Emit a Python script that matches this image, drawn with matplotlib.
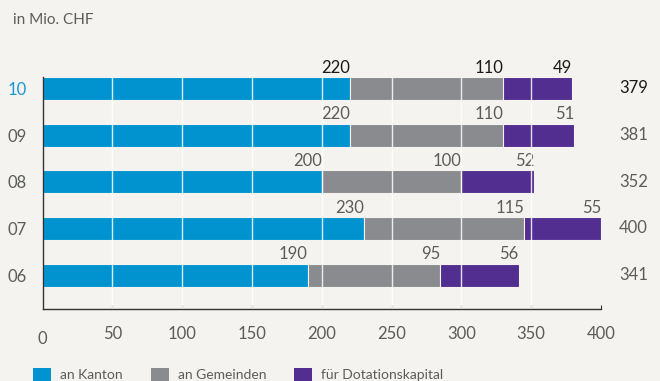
import matplotlib

matplotlib.use("Agg")
import matplotlib.pyplot as plt  # noqa: E402
from matplotlib.patches import Rectangle  # noqa: E402

plt.rcParams["font.family"] = ["Lato", "DejaVu Sans"]

# Ausschüttungen in Mio. CHF, von oben nach unten
jahre = ["10", "09", "08", "07", "06"]
kanton = [220, 220, 200, 230, 190]
gemeinden = [110, 110, 100, 115, 95]
dotation = [49, 51, 52, 55, 56]
totale = [379, 381, 352, 400, 341]

serien = ["an Kanton", "an Gemeinden", "für Dotationskapital"]
farben = ["#0093d0", "#8a8b8e", "#522e91"]
x_ticks = [50, 100, 150, 200, 250, 300, 350, 400]

BG = "#f4f3ef"
GRAU = "#5c5c5c"
DUNKEL = "#1a1a1a"
BLAU_TXT = "#1a96d4"
FS = 12

fig = plt.figure(figsize=(6.6, 3.81), dpi=100, facecolor=BG)
ax = fig.add_axes([42.5 / 660, 1 - 309 / 381, (601 - 42.5) / 660, (309 - 77) / 381])
ax.set_facecolor(BG)

n = len(jahre)
ys = [n - 1 - i for i in range(n)]
h = 0.49
unten = -0.727

for i, y in enumerate(ys):
    links = 0
    werte = [kanton[i], gemeinden[i], dotation[i]]
    # aktuelles Jahr dunkler
    txt_col = DUNKEL if i == 0 else GRAU
    for w, col in zip(werte, farben):
        ax.barh(y, w, left=links, height=h, color=col, edgecolor=BG,
                linewidth=0.8, zorder=2)
        links += w
        ax.annotate(str(w), (links, y + h / 2), xytext=(0, 3.2),
                    textcoords="offset points", ha="right", va="baseline",
                    fontsize=FS, color=txt_col)
    ax.text(413, y, str(totale[i]), ha="left", va="center", fontsize=FS,
            color=txt_col, clip_on=False)

# weisse Rasterlinien über den Balken
for xv in x_ticks[:-1]:
    ax.axvline(xv, color="white", linewidth=1.0, alpha=0.85, zorder=3)

ax.set_xlim(0, 400)
ax.set_ylim(unten, n - 1 + h / 2)

ax.set_yticks(ys)
ax.set_yticklabels(jahre, fontsize=FS)
for i, lbl in enumerate(ax.get_yticklabels()):
    lbl.set_color(BLAU_TXT if i == 0 else GRAU)
ax.tick_params(axis="y", length=0, pad=11)

ax.set_xticks(x_ticks)
ax.set_xticklabels([str(v) for v in x_ticks], fontsize=FS, color=GRAU)
ax.tick_params(axis="x", direction="in", length=3, width=0.8, color="#333333",
               pad=12)
# Null-Beschriftung etwas tiefer als die übrigen
ax.text(0, unten - 22 / 46.75, "0", ha="center", va="top", fontsize=FS,
        color=GRAU, clip_on=False)

for side in ("top", "right"):
    ax.spines[side].set_visible(False)
for side in ("left", "bottom"):
    ax.spines[side].set_color("#333333")
    ax.spines[side].set_linewidth(1.0)

fig.text(13 / 660, 1 - 20 / 381, "in Mio. CHF", ha="left", va="center",
         fontsize=11, color=GRAU)

# Legende
leg_x = [33, 151, 294]
for xp, name, col in zip(leg_x, serien, farben):
    fig.patches.append(Rectangle((xp / 660, 0), 18 / 660, 13 / 381,
                                 transform=fig.transFigure, facecolor=col,
                                 edgecolor="none"))
    fig.text((xp + 27) / 660, 2 / 381, name, ha="left", va="baseline",
             fontsize=10, color=GRAU)

fig.savefig("out.png", dpi=100, facecolor=BG)
